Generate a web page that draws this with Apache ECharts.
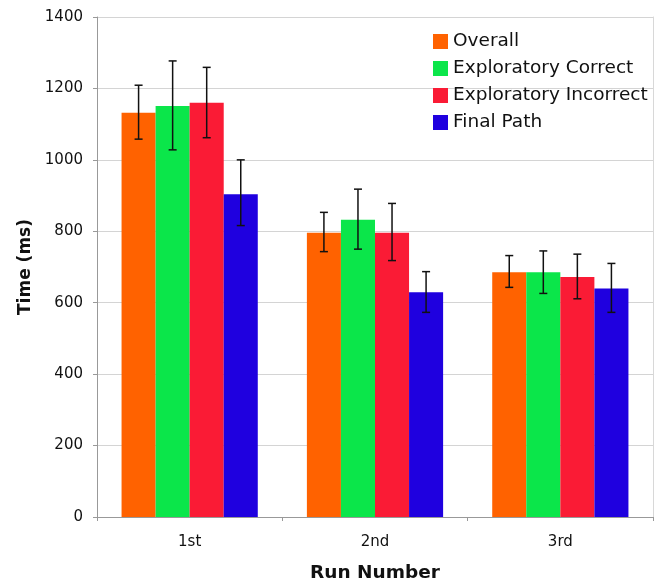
<!DOCTYPE html>
<html><head><meta charset="utf-8">
<script src="https://cdn.jsdelivr.net/npm/echarts@6/dist/echarts.min.js"></script>
<style>html,body{margin:0;padding:0;background:#fff}#c{width:664px;height:583px}</style>
</head><body><div id="c"></div>
<script>
const categories = ['1st', '2nd', '3rd'];
const seriesNames = ['Overall', 'Exploratory Correct', 'Exploratory Incorrect', 'Final Path'];
const overall = [1132, 796, 685];
const exploratoryCorrect = [1151, 832, 685];
const exploratoryIncorrect = [1160, 796, 672];
const finalPath = [904, 629, 640];
const overallErr = [[1058, 1209], [743, 853], [643, 732]];
const correctErr = [[1028, 1277], [750, 918], [626, 745]];
const incorrectErr = [[1062, 1259], [718, 878], [611, 736]];
const finalErr = [[816, 1000], [573, 687], [573, 710]];
const yTicks = [0, 200, 400, 600, 800, 1000, 1200, 1400];

const colors = ['#ff6200', '#0be64a', '#fa1b35', '#1f00df'];
const values = [overall, exploratoryCorrect, exploratoryIncorrect, finalPath];
const errs = [overallErr, correctErr, incorrectErr, finalErr];
const catGap = 0.265;
const font = 'DejaVu Sans';

const chart = echarts.init(document.getElementById('c'));
const series = [];
values.forEach((v, i) => {
  series.push({
    name: seriesNames[i], type: 'bar', data: v,
    itemStyle: { color: colors[i] },
    barGap: '0%', barCategoryGap: (catGap * 100) + '%'
  });
});
errs.forEach((e, i) => {
  series.push({
    type: 'custom', silent: true, z: 10,
    data: e.map((d, k) => [k, d[0], d[1]]),
    renderItem: function (params, api) {
      const k = api.value(0);
      const lo = api.coord([k, api.value(1)]);
      const hi = api.coord([k, api.value(2)]);
      const band = api.size([1, 0])[0];
      const bw = band * (1 - catGap) / 4;
      const x = lo[0] + (i - 1.5) * bw;
      const cap = 4;
      const st = { stroke: '#111', lineWidth: 1.5 };
      return { type: 'group', children: [
        { type: 'line', shape: { x1: x, y1: lo[1], x2: x, y2: hi[1] }, style: st },
        { type: 'line', shape: { x1: x - cap, y1: lo[1], x2: x + cap, y2: lo[1] }, style: st },
        { type: 'line', shape: { x1: x - cap, y1: hi[1], x2: x + cap, y2: hi[1] }, style: st }
      ]};
    }
  });
});

chart.setOption({
  animation: false,
  grid: { left: 97, right: 11, top: 17, bottom: 66, containLabel: false, outerBoundsMode: 'none' },
  legend: {
    data: seriesNames, orient: 'vertical', left: 428, top: 27,
    itemWidth: 15, itemHeight: 15, itemGap: 8, icon: 'rect',
    textStyle: { fontFamily: font, fontSize: 18.5, lineHeight: 18, color: '#111' }
  },
  xAxis: {
    type: 'category', data: categories,
    name: 'Run Number', nameLocation: 'middle', nameGap: 47,
    nameTextStyle: { fontFamily: font, fontSize: 18.5, fontWeight: 'bold', color: '#111' },
    axisLine: { lineStyle: { color: '#999' } },
    axisTick: { show: true, length: 4, lineStyle: { color: '#999' } },
    axisLabel: { fontFamily: font, fontSize: 15, color: '#111', margin: 18 }
  },
  yAxis: [{
    type: 'value', min: 0, max: 1400, interval: 200,
    name: 'Time (ms)', nameLocation: 'middle', nameGap: 59,
    nameTextStyle: { fontFamily: font, fontSize: 17, fontWeight: 'bold', color: '#111' },
    axisLine: { show: true, lineStyle: { color: '#999' } },
    axisTick: { show: true, length: 4, inside: false, lineStyle: { color: '#999' } },
    axisLabel: { fontFamily: font, fontSize: 15, color: '#111', margin: 14,
      formatter: v => yTicks.includes(v) ? String(v) : '' },
    splitLine: { lineStyle: { color: '#d4d4d4' } }
  }, {
    type: 'value', min: 0, max: 1400, interval: 200, position: 'right',
    axisLine: { show: true, lineStyle: { color: '#d8d8d8' } },
    axisTick: { show: false }, axisLabel: { show: false }, splitLine: { show: false }
  }],
  series: series
});
</script></body></html>
